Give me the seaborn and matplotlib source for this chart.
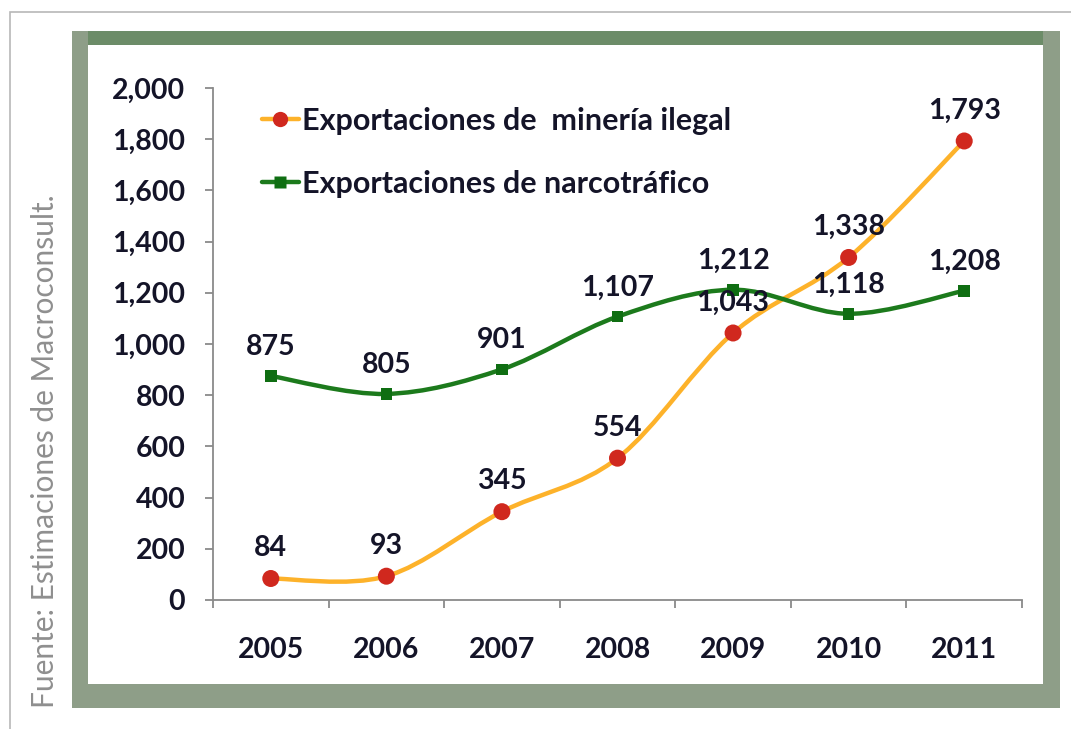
import numpy as np
import pandas as pd
import matplotlib
matplotlib.use('Agg')
import matplotlib.pyplot as plt
from matplotlib.path import Path
from matplotlib.patches import PathPatch, Rectangle
from matplotlib.lines import Line2D
import seaborn as sns

# ---- data ----
years = ['2005', '2006', '2007', '2008', '2009', '2010', '2011']
mineria = [84, 93, 345, 554, 1043, 1338, 1793]
narco = [875, 805, 901, 1107, 1212, 1118, 1208]
lab_mineria = 'Exportaciones de  minería ilegal'
lab_narco = 'Exportaciones de narcotráfico'
source_txt = 'Fuente: Estimaciones de Macroconsult.'

# ---- style ----
sns.set_theme(style='white')
plt.rcParams['font.family'] = ['Lato', 'DejaVu Sans']
TXT = '#141428'
ORANGE = '#FDB22A'
RED = '#D0281E'
GREEN = '#1C7A1C'
GREEN_MK = '#0F6E12'
FS = 20.5

W, H = 1071, 729
fig = plt.figure(figsize=(W / 100, H / 100), dpi=100)
fig.patch.set_facecolor('white')

def px_rect(x0, y0, x1, y1, **kw):
    # rectangle in figure pixels (origin top-left)
    r = Rectangle((x0 / W, 1 - y1 / H), (x1 - x0) / W, (y1 - y0) / H,
                  transform=fig.transFigure, **kw)
    fig.add_artist(r)

# outer thin border + green frame
px_rect(10, 12, 1080, 740, facecolor='white', edgecolor='#b8b8b8', lw=1.2, zorder=0)
px_rect(72, 31, 1060, 708, facecolor='#8e9e88', edgecolor='none', zorder=0)
px_rect(88, 31, 1043, 45, facecolor='#6c8c68', edgecolor='none', zorder=0)
px_rect(88, 45, 1043, 684, facecolor='white', edgecolor='none', zorder=0)

ax = fig.add_axes([213 / W, 1 - 600 / H, (1022 - 213) / W, (600 - 88) / H])
ax.set_facecolor('none')

df = pd.DataFrame({'x': np.arange(len(years)), 'mineria': mineria, 'narco': narco})


def smooth_path(xs, ys):
    # Excel-style smoothed line: cubic Bezier segments through the points
    pts = np.column_stack([xs, ys]).astype(float)
    ext = np.vstack([pts[0], pts, pts[-1]])
    verts = [tuple(pts[0])]
    codes = [Path.MOVETO]
    for i in range(1, len(ext) - 2):
        p0, p1, p2, p3 = ext[i - 1], ext[i], ext[i + 1], ext[i + 2]
        c1 = p1 + (p2 - p0) / 6.0
        c2 = p2 - (p3 - p1) / 6.0
        verts += [tuple(c1), tuple(c2), tuple(p2)]
        codes += [Path.CURVE4] * 3
    return Path(verts, codes)


ax.add_patch(PathPatch(smooth_path(df['x'], df['mineria']), facecolor='none',
                       edgecolor=ORANGE, lw=3.2, capstyle='round', zorder=2))
ax.add_patch(PathPatch(smooth_path(df['x'], df['narco']), facecolor='none',
                       edgecolor=GREEN, lw=3.2, capstyle='round', zorder=3))

sns.scatterplot(data=df, x='x', y='mineria', ax=ax, color=RED, s=150,
                marker='o', edgecolor='none', zorder=4, legend=False)
sns.scatterplot(data=df, x='x', y='narco', ax=ax, color=GREEN_MK, s=70,
                marker='s', edgecolor='none', zorder=4, legend=False)

for xi, v in zip(df['x'], mineria):
    ax.annotate(f'{v:,}', (xi, v), xytext=(0, 22), textcoords='offset points',
                ha='center', va='center', fontsize=FS, fontweight='bold',
                color=TXT, zorder=5)
for xi, v in zip(df['x'], narco):
    ax.annotate(f'{v:,}', (xi, v), xytext=(0, 21), textcoords='offset points',
                ha='center', va='center', fontsize=FS, fontweight='bold',
                color=TXT, zorder=5)

# axes
ax.set_xlim(-0.5, len(years) - 0.5)
ax.set_ylim(0, 2000)
ax.set_yticks(np.arange(0, 2001, 200))
ax.set_yticklabels([f'{v:,}' for v in range(0, 2001, 200)])
ax.set_xticks(df['x'])
ax.set_xticklabels(years)
ax.set_xticks(np.arange(-0.5, len(years), 1), minor=True)
ax.set_xlabel('')
ax.set_ylabel('')
for s in ['top', 'right']:
    ax.spines[s].set_visible(False)
for s in ['left', 'bottom']:
    ax.spines[s].set_color('#8a8a8a')
    ax.spines[s].set_linewidth(1.3)
ax.tick_params(axis='y', which='major', left=True, length=6, width=1.3,
               color='#8a8a8a', pad=14, labelsize=FS, labelcolor=TXT)
ax.tick_params(axis='x', which='major', bottom=False, length=0, pad=27,
               labelsize=FS, labelcolor=TXT)
ax.tick_params(axis='x', which='minor', bottom=True, length=6, width=1.3,
               color='#8a8a8a')
for t in ax.get_xticklabels() + ax.get_yticklabels():
    t.set_fontweight('bold')

# legend
handles = [
    Line2D([], [], color=ORANGE, lw=3.2, marker='o', markersize=11,
           markerfacecolor=RED, markeredgecolor='none'),
    Line2D([], [], color=GREEN, lw=3.2, marker='s', markersize=8,
           markerfacecolor=GREEN_MK, markeredgecolor='none'),
]
leg = ax.legend(handles, [lab_mineria, lab_narco], loc='upper left',
                bbox_to_anchor=(262 / W, 1 - 107 / H), bbox_transform=fig.transFigure,
                frameon=False, handlelength=1.2, handletextpad=0.1,
                labelspacing=1.15, borderpad=0, borderaxespad=0,
                prop={'size': 22, 'weight': 'bold'})
for t in leg.get_texts():
    t.set_color(TXT)

# source text
fig.text(45 / W, 1 - 708 / H, source_txt, rotation=90, ha='center', va='bottom',
         fontsize=21.5, color='#8f8f8f')

fig.savefig('out.png', dpi=100)
